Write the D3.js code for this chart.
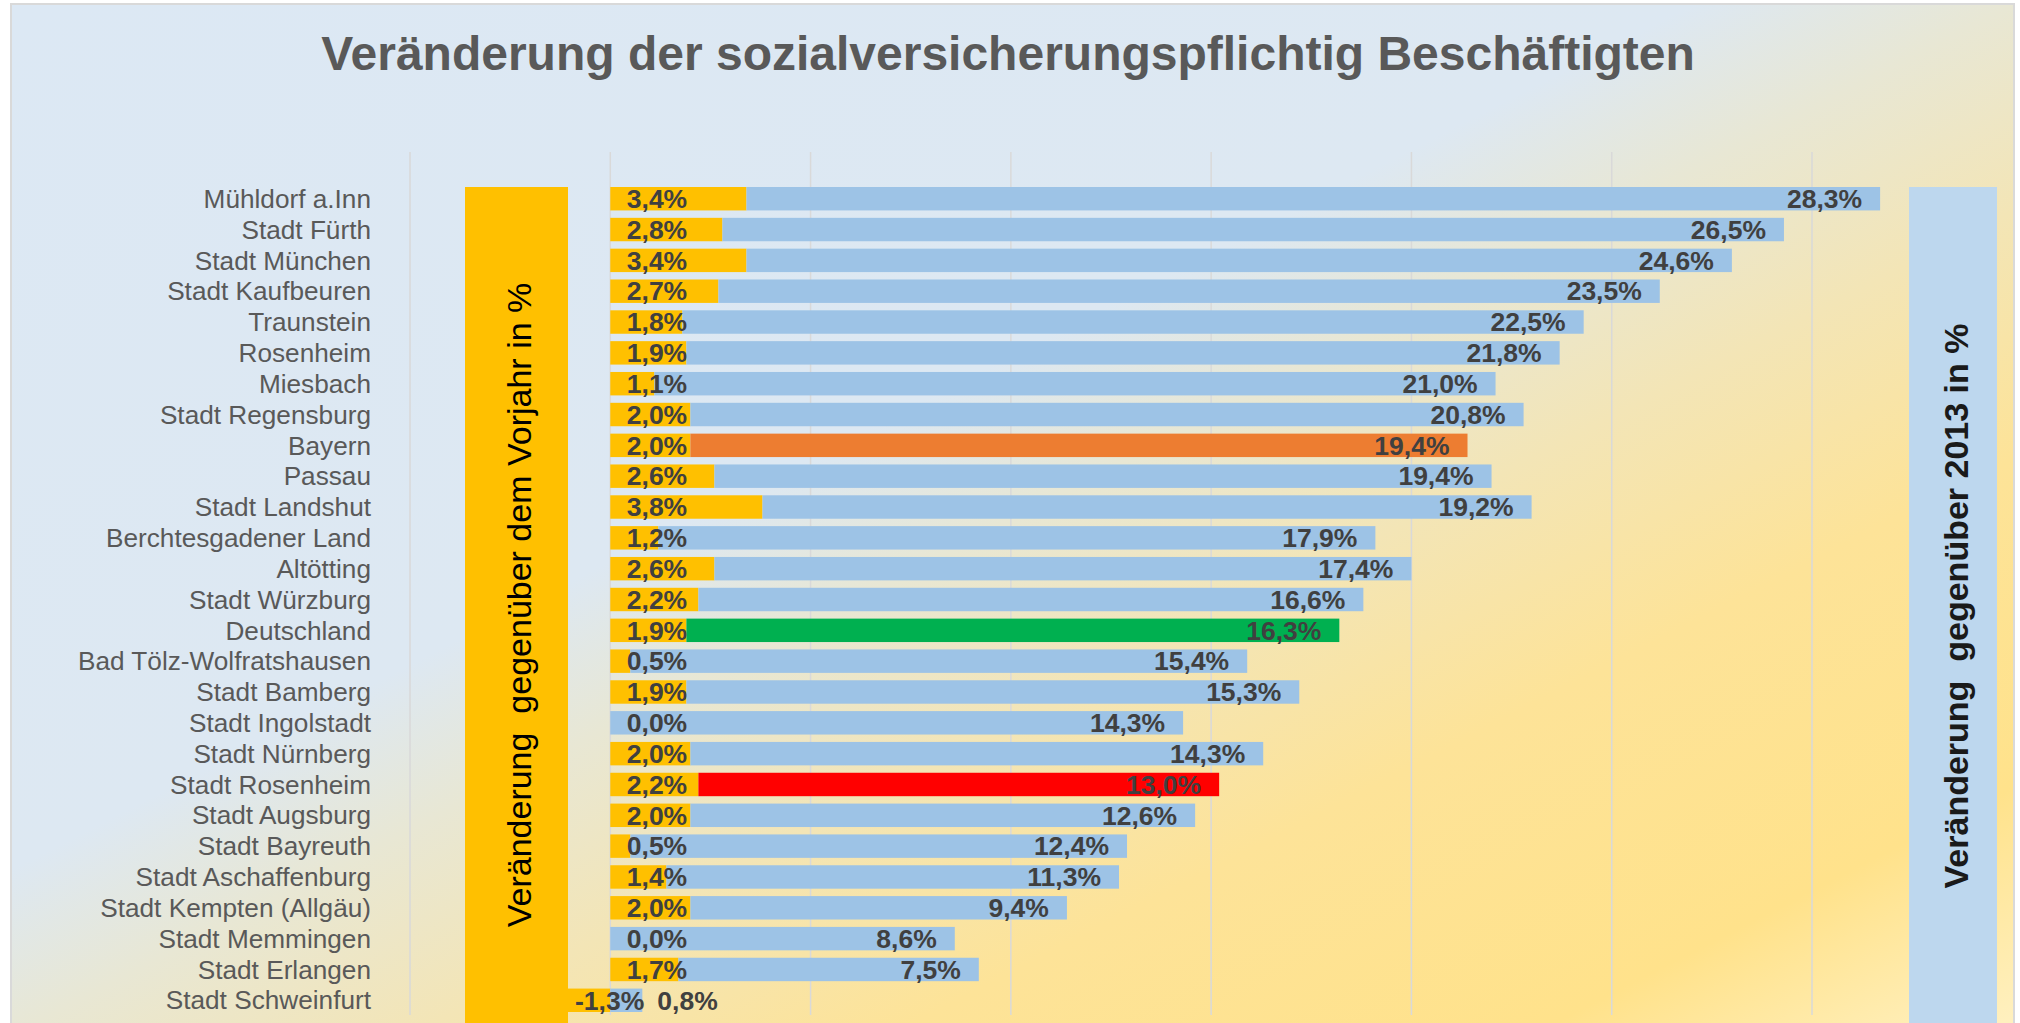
<!DOCTYPE html>
<html>
<head>
<meta charset="utf-8">
<script src="https://cdn.jsdelivr.net/npm/d3@7"></script>
<style>
  html, body { margin: 0; padding: 0; background: #ffffff; }
  svg { display: block; }
  text { font-family: "Liberation Sans", Arial, sans-serif; }
</style>
</head>
<body>
<svg id="chart" width="2020" height="1023"></svg>
<script>
// ---------- data ----------
const title = "Veränderung der sozialversicherungspflichtig Beschäftigten";
const leftBannerText = "Veränderung  gegenüber dem Vorjahr in %";
const rightBannerText = "Veränderung  gegenüber 2013 in %";

const categories = [
  "Mühldorf a.Inn", "Stadt Fürth", "Stadt München", "Stadt Kaufbeuren", "Traunstein",
  "Rosenheim", "Miesbach", "Stadt Regensburg", "Bayern", "Passau", "Stadt Landshut",
  "Berchtesgadener Land", "Altötting", "Stadt Würzburg", "Deutschland",
  "Bad Tölz-Wolfratshausen", "Stadt Bamberg", "Stadt Ingolstadt", "Stadt Nürnberg",
  "Stadt Rosenheim", "Stadt Augsburg", "Stadt Bayreuth", "Stadt Aschaffenburg",
  "Stadt Kempten (Allgäu)", "Stadt Memmingen", "Stadt Erlangen", "Stadt Schweinfurt"
];
// change vs. previous year (%)
const vorjahr = [3.4, 2.8, 3.4, 2.7, 1.8, 1.9, 1.1, 2.0, 2.0, 2.6, 3.8, 1.2, 2.6, 2.2, 1.9,
                 0.5, 1.9, 0.0, 2.0, 2.2, 2.0, 0.5, 1.4, 2.0, 0.0, 1.7, -1.3];
// change vs. 2013 (%)
const seit2013 = [28.3, 26.5, 24.6, 23.5, 22.5, 21.8, 21.0, 20.8, 19.4, 19.4, 19.2, 17.9, 17.4,
                  16.6, 16.3, 15.4, 15.3, 14.3, 14.3, 13.0, 12.6, 12.4, 11.3, 9.4, 8.6, 7.5, 0.8];
const xDomain = [-5, 30];

// ---------- styles ----------
const colYellow = "#FFC000";
const colBlue = "#9DC3E6";
const highlightColors = { "Bayern": "#ED7D31", "Deutschland": "#00B050", "Stadt Rosenheim": "#FF0000" };

const rows = categories.map((c, i) => ({ cat: c, a: vorjahr[i], b: seit2013[i] }));

const svg = d3.select("#chart");
const defs = svg.append("defs");
const grad = defs.append("linearGradient").attr("id", "bg")
  .attr("x1", 0).attr("y1", 0).attr("x2", 1).attr("y2", 1);
[[0, "#DCE8F4"], [0.42, "#DDE8F2"], [0.5, "#E8E7D4"], [0.6, "#F3E5B6"],
 [0.72, "#FDE398"], [0.88, "#FFE28B"], [1, "#FFF1C2"]]
  .forEach(([o, c]) => grad.append("stop").attr("offset", o).attr("stop-color", c));

// chart area background + border
svg.append("rect").attr("x", 11).attr("y", 4).attr("width", 2003).attr("height", 1030)
  .attr("fill", "url(#bg)").attr("stroke", "#D9D9D9").attr("stroke-width", 2);

// title
svg.append("text").attr("x", 1008).attr("y", 70).attr("text-anchor", "middle")
  .attr("font-size", 48).attr("font-weight", "bold").attr("fill", "#595959")
  .text(title);

// scales
const x = d3.scaleLinear().domain(xDomain).range([410, 1812]);
const y = d3.scaleBand().domain(categories).range([183.3, 1015.7])
  .paddingInner(0.24).paddingOuter(0.12);

// gridlines
const grid = svg.append("g");
grid.selectAll("line").data(x.ticks(7)).join("line")
  .attr("x1", d => x(d)).attr("x2", d => x(d))
  .attr("y1", 152).attr("y2", 1015)
  .attr("stroke", "#D9D9D9").attr("stroke-width", 1.5);

// category axis
const yAxis = svg.append("g").attr("transform", "translate(371,0)")
  .call(d3.axisLeft(y).tickSize(0).tickPadding(0));
yAxis.select(".domain").remove();
yAxis.selectAll("text").attr("font-size", 26.2).attr("fill", "#595959")
  .attr("font-family", "'Liberation Sans', Arial, sans-serif").attr("dy", "0.35em");

// banners
svg.append("rect").attr("x", 465).attr("y", 187).attr("width", 103).attr("height", 850)
  .attr("fill", colYellow);
svg.append("rect").attr("x", 1909).attr("y", 187).attr("width", 88).attr("height", 850)
  .attr("fill", "#BDD7EE");

svg.append("text").attr("transform", "translate(531,605) rotate(-90)")
  .attr("text-anchor", "middle").attr("font-size", 34).attr("fill", "#000")
  .style("white-space", "pre").text(leftBannerText);
svg.append("text").attr("transform", "translate(1968,606) rotate(-90)")
  .attr("text-anchor", "middle").attr("font-size", 34).attr("font-weight", "bold")
  .attr("fill", "#1A1A1A").style("white-space", "pre").text(rightBannerText);

// bars
const bars = svg.append("g");
bars.selectAll("rect.a").data(rows).join("rect").attr("class", "a")
  .attr("x", d => x(Math.min(0, d.a)))
  .attr("width", d => Math.abs(x(d.a) - x(0)))
  .attr("y", d => y(d.cat)).attr("height", y.bandwidth())
  .attr("fill", colYellow);
bars.selectAll("rect.b").data(rows).join("rect").attr("class", "b")
  .attr("x", d => x(Math.max(0, d.a)))
  .attr("width", d => x(Math.max(0, d.a) + d.b) - x(Math.max(0, d.a)))
  .attr("y", d => y(d.cat)).attr("height", y.bandwidth())
  .attr("fill", d => highlightColors[d.cat] || colBlue);

// labels
const de = d3.formatLocale({ decimal: ",", thousands: ".", grouping: [3], currency: ["", "€"], minus: "-" });
const fmt = v => de.format(".1f")(v) + "%";
const lab = svg.append("g").attr("font-size", 26.5).attr("font-weight", "bold").attr("fill", "#404040");
lab.selectAll("text.a").data(rows).join("text").attr("class", "a")
  .attr("x", d => d.a >= 0 ? x(0) + 16.5 : x(0) + 34)
  .attr("text-anchor", d => d.a >= 0 ? "start" : "end")
  .attr("y", d => y(d.cat) + y.bandwidth() / 2).attr("dy", "0.35em")
  .text(d => fmt(d.a));
lab.selectAll("text.b").data(rows).join("text").attr("class", "b")
  .each(function (d) {
    const s = Math.max(0, d.a), e = x(s + d.b), w = e - x(s);
    const inside = w > 100;
    d3.select(this).attr("x", inside ? e - 18 : e + 15)
      .attr("text-anchor", inside ? "end" : "start");
  })
  .attr("y", d => y(d.cat) + y.bandwidth() / 2).attr("dy", "0.35em")
  .text(d => fmt(d.b));
</script>
</body>
</html>
